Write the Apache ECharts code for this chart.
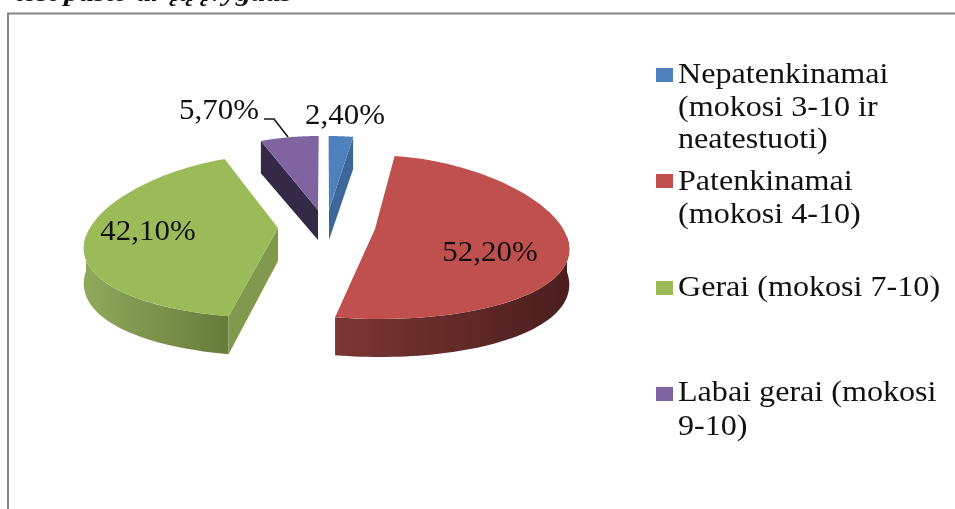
<!DOCTYPE html>
<html><head><meta charset="utf-8">
<script src="https://cdn.jsdelivr.net/npm/echarts@6/dist/echarts.min.js"></script>
<style>html,body{margin:0;padding:0;background:#fff}#c{width:955px;height:509px}</style>
</head><body><div id="c"></div>
<script>
const categories = ['Nepatenkinamai (mokosi 3-10 ir neatestuoti)', 'Patenkinamai (mokosi 4-10)', 'Gerai (mokosi 7-10)', 'Labai gerai (mokosi 9-10)'];
const values = [2.4, 52.2, 42.1, 5.7];
const legendLines = [['Nepatenkinamai', '(mokosi 3-10 ir', 'neatestuoti)'], ['Patenkinamai', '(mokosi 4-10)'], ['Gerai (mokosi 7-10)'], ['Labai gerai (mokosi', '9-10)']];
const colors = ['#4f81bd', '#c0504d', '#9bbb59', '#8064a2'];
const cutColors = ['#3b6898', null, '#80994d', '#342a48'];
const wallGrad = [null, ['#7c3634', '#4a1e1d'], ['#8fa95b', '#677b3b'], null];
const apex = [[329, 210], [375, 229], [278, 228], [318, 210]];
const cutDepth = [30, 33, 33, 30];
const labelPos = [[345, 116], [490, 253], [148, 232], [219, 111]];
const legendTop = [68, 174, 281, 387];
const legendY = [[75, 108, 140], [182, 215], [288], [393, 427]];

const total = values.reduce((a, b) => a + b, 0);
const FONT = '"Liberation Serif", serif';
const RX = 192, TILT = 82, PERSP = 0.13, DROP = 8, CX = 325, SHEAR = 0.1;
function outer(i, th) {
  const s = Math.sin(th), v = -Math.cos(th);
  return [apex[i][0] + RX * s * (1 + PERSP * v) + (apex[i][0] - CX) * SHEAR * v, apex[i][1] + DROP + TILT * v];
}
function depth(th) { return 35 - 3 * Math.cos(th); }
function makeRender(i) {
  return function (params, api) {
    const before = values.slice(0, i).reduce((a, b) => a + b, 0);
    const a0 = before / total * 2 * Math.PI;
    const a1 = a0 + api.value(0) / total * 2 * Math.PI;
    const N = 60, arc = [];
    for (let k = 0; k <= N; k++) arc.push(outer(i, a0 + (a1 - a0) * k / N));
    const children = [];
    const w0 = Math.max(a0, Math.PI / 2), w1 = Math.min(a1, 1.5 * Math.PI);
    if (w1 > w0 && wallGrad[i]) {
      const up = [], down = [];
      for (let k = 0; k <= N; k++) {
        const th = w0 + (w1 - w0) * k / N, p = outer(i, th);
        up.push(p); down.unshift([p[0], p[1] + depth(th)]);
      }
      children.push({
        type: 'polygon', shape: { points: up.concat(down) },
        style: { fill: new echarts.graphic.LinearGradient(0, 0, 1, 0, [
          { offset: 0, color: wallGrad[i][0] }, { offset: 1, color: wallGrad[i][1] }]) }
      });
    }
    if (cutColors[i]) {
      const th = i === 0 ? a1 : a0;
      const p = outer(i, th), d = depth(th), A = apex[i];
      children.push({ type: 'polygon', shape: { points: [A, p, [p[0], p[1] + d], [A[0], A[1] + cutDepth[i]]] }, style: { fill: cutColors[i] } });
    }
    children.push({ type: 'polygon', shape: { points: [apex[i]].concat(arc) }, style: { fill: colors[i] } });
    if (i === 3) {
      children.push({ type: 'polyline', shape: { points: [[264, 119], [274, 119], [288, 137]] }, style: { stroke: '#1a1a1a', lineWidth: 1.6, fill: 'none' } });
    }
    children.push({
      type: 'text', x: labelPos[i][0], y: labelPos[i][1], scaleX: 1.03,
      style: {
        text: api.value(0).toFixed(2).replace('.', ',') + '%',
        font: '30px ' + FONT, fill: '#111', align: 'center', verticalAlign: 'middle'
      }
    });
    return { type: 'group', children };
  };
}
const graphicEls = [
  { type: 'polyline', silent: true, shape: { points: [[8, 509], [8, 13.5], [955, 13.5]] }, style: { stroke: '#868686', lineWidth: 2, fill: 'none' } },
  { type: 'text', x: 15, y: -6, scaleX: 1.15, style: { text: 'test pasto ar įą įvygdas', font: 'italic bold 26px ' + FONT, fill: '#111', verticalAlign: 'middle' } }
];
legendLines.forEach((lines, i) => {
  lines.forEach((t, k) => {
    graphicEls.push({ type: 'text', x: 678, y: legendY[i][k], scaleX: 1.07, style: { text: t, font: '30px ' + FONT, fill: '#111', verticalAlign: 'middle' } });
  });
});
const chart = echarts.init(document.getElementById('c'), null, { renderer: 'canvas' });
chart.setOption({
  animation: false,
  backgroundColor: '#fff',
  legend: categories.map((c, i) => ({
    left: 656, top: legendTop[i], padding: 0, itemWidth: 17, itemHeight: 14, itemGap: 0,
    icon: 'rect', data: [c], selectedMode: false,
    formatter: () => ' ',
    textStyle: { fontFamily: FONT, fontSize: 12, color: '#111' },
    itemStyle: { color: colors[i], borderWidth: 0 }
  })),
  graphic: graphicEls,
  series: categories.map((c, i) => ({
    type: 'custom', name: c, coordinateSystem: 'none',
    itemStyle: { color: colors[i] },
    data: [[values[i]]],
    renderItem: makeRender(i)
  }))
});
</script></body></html>
